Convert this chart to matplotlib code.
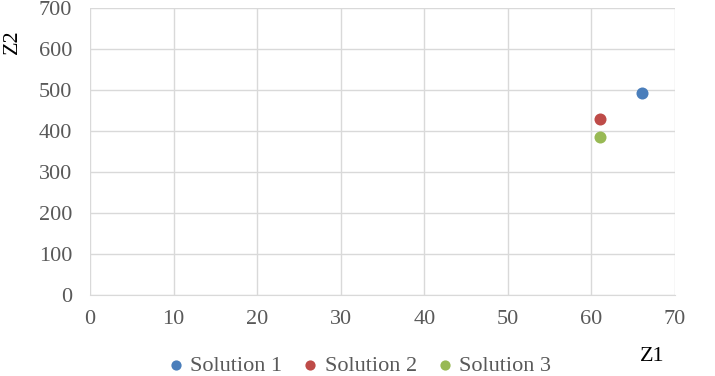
import matplotlib.pyplot as plt

# data
z1 = [66, 61, 61]
z2 = [492, 430, 386]
labels = ['Solution 1', 'Solution 2', 'Solution 3']
colors = ['#4a7ebb', '#be4b48', '#98b954']

plt.rcParams['font.family'] = ['Liberation Serif', 'DejaVu Serif']

fig = plt.figure(figsize=(7.15, 3.76), dpi=100)
ax = fig.add_axes([0.126, 0.215, 0.818, 0.764])

for x, y, lab, c in zip(z1, z2, labels, colors):
    ax.scatter(x, y, s=75, color=c, label=lab, zorder=3, linewidths=0)

ax.set_xlim(0, 70)
ax.set_ylim(0, 700)
ax.set_xticks(range(0, 71, 10))
ax.set_yticks(range(0, 701, 100))
ax.grid(True, color='#d9d9d9', linewidth=1)
ax.set_axisbelow(True)
for s in ['top', 'right', 'left']:
    ax.spines[s].set_visible(False)
ax.spines['bottom'].set_color('#d9d9d9')
ax.tick_params(length=0, labelsize=16, labelcolor='#595959')
ax.tick_params(axis='x', pad=11)
ax.tick_params(axis='y', pad=13)

fig.text(0.017, 0.89, 'Z2', rotation=90, fontsize=16, ha='center', va='center')
fig.text(0.912, 0.053, 'Z1', fontsize=16, ha='center', va='center')

ax.legend(loc='center', bbox_to_anchor=(0.46, -0.246), ncol=3, frameon=False,
          fontsize=16, labelcolor='#595959', handlelength=0.8, handletextpad=0.25,
          columnspacing=0.85, markerscale=0.85, borderpad=0)

fig.savefig('out.png')
